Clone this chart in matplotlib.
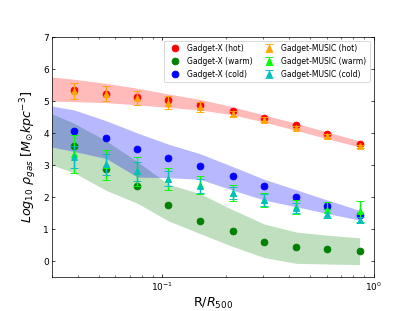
import matplotlib
matplotlib.use("Agg")
import matplotlib.pyplot as plt

# radial bins (R/R500)
r = [0.0383, 0.0543, 0.0762, 0.1067, 0.151, 0.215, 0.304, 0.431, 0.605, 0.859]
r_band = [0.03, 0.0383, 0.0543, 0.0762, 0.1067, 0.151, 0.215, 0.304, 0.431, 0.605, 0.859]

# Gadget-X medians
gx_hot = [5.36, 5.23, 5.14, 5.02, 4.89, 4.68, 4.48, 4.24, 3.96, 3.65]
gx_warm = [3.60, 2.87, 2.33, 1.75, 1.25, 0.92, 0.58, 0.42, 0.38, 0.30]
gx_cold = [4.07, 3.84, 3.51, 3.22, 2.96, 2.65, 2.33, 1.99, 1.72, 1.44]

# Gadget-X scatter bands
hot_hi = [5.75, 5.68, 5.55, 5.40, 5.22, 5.05, 4.82, 4.56, 4.30, 4.03, 3.75]
hot_lo = [5.00, 4.98, 4.95, 4.88, 4.80, 4.72, 4.57, 4.34, 4.08, 3.82, 3.56]
warm_hi = [4.60, 4.30, 3.75, 3.10, 2.40, 2.10, 1.60, 1.15, 0.90, 0.80, 0.72]
warm_lo = [3.00, 2.75, 2.20, 1.80, 1.25, 0.85, 0.45, 0.10, -0.08, -0.10, -0.12]
cold_hi = [4.84, 4.72, 4.38, 4.00, 3.65, 3.35, 2.95, 2.55, 2.22, 1.90, 1.58]
cold_lo = [3.56, 3.42, 3.20, 2.62, 2.60, 2.55, 2.21, 1.90, 1.69, 1.48, 1.27]

# Gadget-MUSIC medians and errors
mu_hot = [5.32, 5.23, 5.09, 4.95, 4.82, 4.60, 4.42, 4.17, 3.90, 3.58]
mu_hot_err = [0.25, 0.23, 0.22, 0.20, 0.15, 0.08, 0.07, 0.06, 0.06, 0.05]
mu_warm = [3.35, 3.00, 2.80, 2.55, 2.37, 2.12, 1.90, 1.68, 1.58, 1.55]
mu_warm_err = [0.60, 0.48, 0.45, 0.35, 0.28, 0.25, 0.23, 0.22, 0.25, 0.33]
mu_cold = [3.25, 3.02, 2.80, 2.57, 2.35, 2.12, 1.90, 1.65, 1.47, 1.27]
mu_cold_err = [0.35, 0.32, 0.30, 0.23, 0.22, 0.20, 0.18, 0.16, 0.14, 0.10]

fig, ax = plt.subplots(figsize=(6.4, 4.8), dpi=415 / 6.4)

ax.fill_between(r_band, hot_lo, hot_hi, color="red", alpha=0.27, lw=0)
ax.fill_between(r_band, warm_lo, warm_hi, color="green", alpha=0.25, lw=0)
ax.fill_between(r_band, cold_lo, cold_hi, color="blue", alpha=0.28, lw=0)

h1, = ax.plot(r, gx_hot, "o", color="red", ms=7.5, label="Gadget-X (hot)")
h2, = ax.plot(r, gx_warm, "o", color="green", ms=7.5, label="Gadget-X (warm)")
h3, = ax.plot(r, gx_cold, "o", color="blue", ms=7.5, label="Gadget-X (cold)")

h4 = ax.errorbar(r, mu_hot, yerr=mu_hot_err, fmt="^", color="orange", ms=7.5,
                 capsize=4, label="Gadget-MUSIC (hot)")
h5 = ax.errorbar(r, mu_warm, yerr=mu_warm_err, fmt="^", color="lime", ms=7.5,
                 capsize=4, label="Gadget-MUSIC (warm)")
h6 = ax.errorbar(r, mu_cold, yerr=mu_cold_err, fmt="^", color="c", ms=7.5,
                 capsize=4, label="Gadget-MUSIC (cold)")

ax.set_xscale("log")
ax.set_xlim(0.03, 1.0)
ax.set_ylim(-0.5, 7)
ax.tick_params(which="both", direction="in", top=True, right=True)
ax.set_xlabel(r"R/$R_{500}$", fontsize=14)
ax.set_ylabel(r"$Log_{10}\ \rho_{gas}\ [M_{\odot} kpc^{-3}]$", fontsize=14)

ax.legend(handles=[h1, h2, h3, h4, h5, h6], loc="upper right", ncol=2,
          fontsize=8.5, handletextpad=0.6, columnspacing=1.2)

plt.savefig("out.png", dpi=415 / 6.4)
plt.close()
